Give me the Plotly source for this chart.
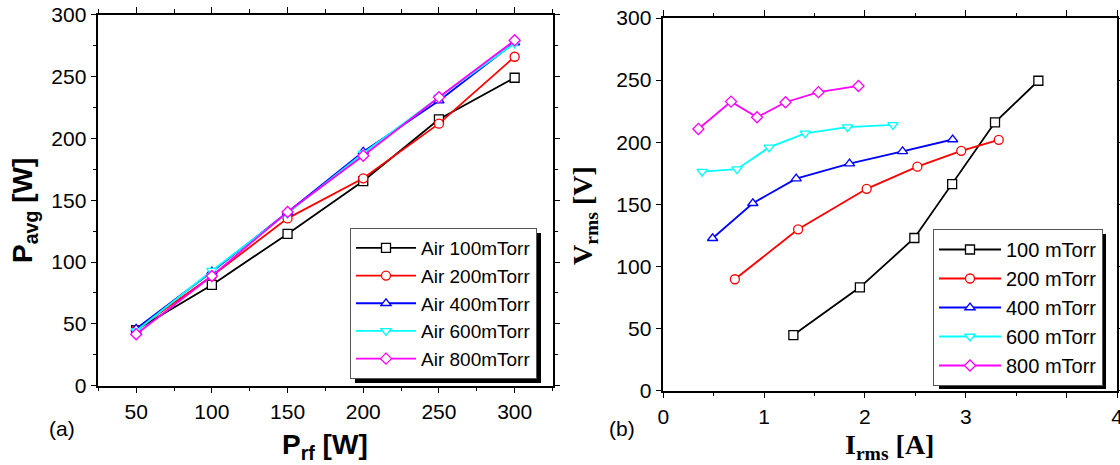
import plotly.graph_objects as go

# ---------------- data: panel (a) ----------------
p_rf = [50, 100, 150, 200, 250, 300]
pavg_100 = [45.0, 81.5, 122.7, 165.5, 215.4, 249.0]
pavg_200 = [45.2, 88.7, 135.3, 167.7, 211.9, 266.0]
pavg_400 = [46.0, 92.2, 140.2, 189.2, 230.5, 277.4]
pavg_600 = [44.2, 93.0, 139.4, 187.9, 233.2, 276.8]
pavg_800 = [41.6, 88.7, 140.5, 186.0, 233.2, 279.3]
labels_a = ["Air 100mTorr", "Air 200mTorr", "Air 400mTorr", "Air 600mTorr", "Air 800mTorr"]

# ---------------- data: panel (b) ----------------
irms_100 = [1.29, 1.95, 2.49, 2.865, 3.29, 3.72]
vrms_100 = [44.8, 83.2, 122.9, 166.3, 216.0, 249.5]
irms_200 = [0.71, 1.337, 2.017, 2.52, 2.955, 3.327]
vrms_200 = [89.7, 129.9, 162.5, 180.3, 193.1, 201.9]
irms_400 = [0.489, 0.888, 1.318, 1.847, 2.373, 2.87]
vrms_400 = [122.7, 150.9, 170.7, 182.8, 192.7, 202.2]
irms_600 = [0.385, 0.731, 1.05, 1.407, 1.827, 2.278]
vrms_600 = [176.3, 178.3, 195.9, 207.2, 212.1, 213.9]
irms_800 = [0.348, 0.672, 0.930, 1.212, 1.539, 1.936]
vrms_800 = [210.7, 232.7, 220.1, 232.2, 240.3, 245.3]
labels_b = ["100 mTorr", "200 mTorr", "400 mTorr", "600 mTorr", "800 mTorr"]

b_xtickvals = [0, 1, 2, 3, 4, 4.5]
b_xticktext = ["0", "1", "2", "3", "", "4"]

colors = ["#000000", "#FF0000", "#0000FF", "#00FFFF", "#FF00FF"]
symbols = ["square", "circle", "triangle-up", "triangle-down", "diamond"]
sizes = [9, 9, 9, 9, 8.5]

W, H = 1120, 465


def px(x):
    return x / W


def py(y):
    return 1 - y / H


fig = go.Figure()

a_series = [pavg_100, pavg_200, pavg_400, pavg_600, pavg_800]
for i, ys in enumerate(a_series):
    fig.add_trace(go.Scatter(
        x=p_rf, y=ys, mode="lines+markers", name=labels_a[i],
        line=dict(color=colors[i], width=1.8),
        marker=dict(symbol=symbols[i], size=sizes[i], color="white",
                    line=dict(color=colors[i], width=1.3)),
        xaxis="x", yaxis="y", legend="legend"))

b_series = [(irms_100, vrms_100), (irms_200, vrms_200), (irms_400, vrms_400),
            (irms_600, vrms_600), (irms_800, vrms_800)]
for i, (xs, ys) in enumerate(b_series):
    fig.add_trace(go.Scatter(
        x=xs, y=ys, mode="lines+markers", name=labels_b[i],
        line=dict(color=colors[i], width=1.8),
        marker=dict(symbol=symbols[i], size=sizes[i], color="white",
                    line=dict(color=colors[i], width=1.3)),
        xaxis="x2", yaxis="y2", legend="legend2"))

tickfont = dict(family="Liberation Sans, Arial", size=21, color="black")
axis_common = dict(showgrid=False, zeroline=False, showline=True, linecolor="black",
                   linewidth=1.5, mirror="ticks", ticks="outside", ticklen=6,
                   tickwidth=1.3, tickcolor="black", tickfont=tickfont,
                   automargin=False, ticklabeloverflow="allow")
minor_style = dict(ticks="outside", ticklen=3.5, tickwidth=1.2, tickcolor="black")

leg_a = dict(x0=350, y0=228, w=186, h=150)
leg_b = dict(x0=933, y0=229, w=167, h=155)

fig.update_layout(
    width=W, height=H, autosize=False,
    margin=dict(l=0, r=0, t=0, b=0, autoexpand=False),
    paper_bgcolor="white", plot_bgcolor="white",
    showlegend=True,
    xaxis=dict(domain=[px(98.3), px(552.5)], range=[25, 325], anchor="y",
               tickvals=p_rf, minor=dict(dtick=25, tick0=25, **minor_style),
               **axis_common),
    yaxis=dict(domain=[py(385.7), py(14.7)], range=[0, 300], anchor="x", dtick=50,
               minor=dict(dtick=25, **minor_style), **axis_common),
    xaxis2=dict(domain=[px(663.3), px(1117.0)], range=[0, 4.5], anchor="y2",
                tickvals=b_xtickvals, ticktext=b_xticktext,
                minor=dict(dtick=0.5, **minor_style), **axis_common),
    yaxis2=dict(domain=[py(390.7), py(18.0)], range=[0, 300], anchor="x2", dtick=50,
                **axis_common),
    legend=dict(x=px(leg_a["x0"]), y=py(leg_a["y0"]), xanchor="left", yanchor="top",
                bgcolor="white", bordercolor="#555555", borderwidth=1,
                font=dict(family="Liberation Sans, Arial", size=19, color="black"),
                itemwidth=60, tracegroupgap=0),
    legend2=dict(x=px(leg_b["x0"]), y=py(leg_b["y0"]), xanchor="left", yanchor="top",
                 bgcolor="white", bordercolor="#555555", borderwidth=1,
                 font=dict(family="Liberation Sans, Arial", size=20, color="black"),
                 itemwidth=62, tracegroupgap=0),
    shapes=[
        dict(type="rect", xref="paper", yref="paper", layer="above",
             x0=px(leg_a["x0"] + 5), x1=px(leg_a["x0"] + leg_a["w"] + 5),
             y0=py(leg_a["y0"] + leg_a["h"] + 5), y1=py(leg_a["y0"] + 5),
             fillcolor="black", line=dict(width=0)),
        dict(type="rect", xref="paper", yref="paper", layer="above",
             x0=px(leg_b["x0"] + 6), x1=px(leg_b["x0"] + leg_b["w"] + 6),
             y0=py(leg_b["y0"] + leg_b["h"] + 5), y1=py(leg_b["y0"] + 5),
             fillcolor="black", line=dict(width=0)),
    ],
    annotations=[
        dict(text="<b>P<sub>rf</sub> [W]</b>", xref="paper", yref="paper",
             x=px(325), y=py(446), xanchor="center", yanchor="middle", showarrow=False,
             font=dict(family="Liberation Sans, Arial", size=28, color="black")),
        dict(text="<b>P<sub>avg</sub> [W]</b>", xref="paper", yref="paper", textangle=-90,
             x=px(24), y=py(211), xanchor="center", yanchor="middle", showarrow=False,
             font=dict(family="Liberation Sans, Arial", size=28, color="black")),
        dict(text="<b>I<sub>rms</sub> [A]</b>", xref="paper", yref="paper",
             x=px(889), y=py(446), xanchor="center", yanchor="middle", showarrow=False,
             font=dict(family="Liberation Serif, Times New Roman", size=28, color="black")),
        dict(text="<b>V<sub>rms</sub> [V]</b>", xref="paper", yref="paper", textangle=-90,
             x=px(584), y=py(216), xanchor="center", yanchor="middle", showarrow=False,
             font=dict(family="Liberation Serif, Times New Roman", size=28, color="black")),
        dict(text="(a)", xref="paper", yref="paper", x=px(62), y=py(428),
             xanchor="center", yanchor="middle", showarrow=False,
             font=dict(family="Liberation Sans, Arial", size=21, color="black")),
        dict(text="(b)", xref="paper", yref="paper", x=px(622), y=py(428),
             xanchor="center", yanchor="middle", showarrow=False,
             font=dict(family="Liberation Sans, Arial", size=21, color="black")),
    ],
)

# remove the default 8px page margin so the figure sits at the window's top-left corner
fig.write_html("out.html", config={"displayModeBar": False},
               post_script="document.body.style.margin='0px';")
